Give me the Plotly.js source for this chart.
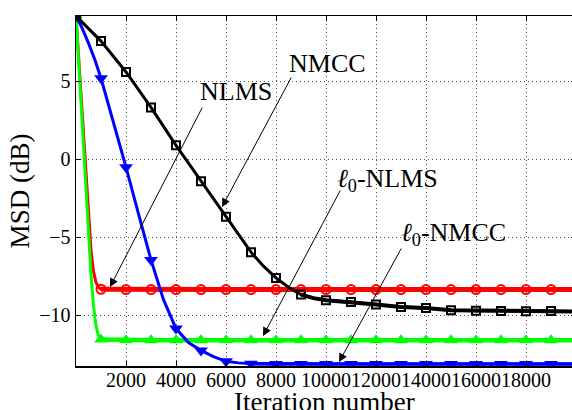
<!DOCTYPE html>
<html>
<head>
<meta charset="utf-8">
<script src="https://cdn.plot.ly/plotly-3.0.1.min.js"></script>
<style>
html,body{margin:0;padding:0;overflow:hidden;background:#fff;}
#chart{width:580px;height:420px;}
</style>
</head>
<body>
<div id="chart"></div>
<script>
// ---- data ----
var nlmsIter = [0,100,200,300,400,500,600,700,800,900,1000,2000,3000,4000,5000,6000,7000,8000,9000,10000,11000,12000,13000,14000,15000,16000,17000,18000,19000,20000];
var nlmsMsd  = [9.19,6.6,4.0,1.4,-1.2,-3.7,-5.8,-7.2,-7.9,-8.2,-8.33,-8.35,-8.35,-8.35,-8.35,-8.35,-8.35,-8.35,-8.35,-8.35,-8.35,-8.35,-8.35,-8.35,-8.35,-8.35,-8.35,-8.35,-8.35,-8.35];

var l0nlmsIter = [0,100,200,300,400,500,600,700,800,900,1000,2000,3000,4000,5000,6000,7000,8000,9000,10000,11000,12000,13000,14000,15000,16000,17000,18000,19000,20000];
var l0nlmsMsd  = [9.19,6.4,3.6,0.8,-2.0,-4.8,-7.4,-9.4,-10.7,-11.3,-11.55,-11.6,-11.6,-11.6,-11.6,-11.6,-11.6,-11.6,-11.6,-11.6,-11.6,-11.6,-11.6,-11.6,-11.6,-11.6,-11.6,-11.6,-11.6,-11.6];

var l0nmccIter = [0,250,500,750,1000,1250,1500,1750,2000,2500,3000,3500,4000,4500,5000,5500,6000,6500,7000,8000,9000,10000,11000,12000,13000,14000,15000,16000,17000,18000,19000,20000];
var l0nmccMsd  = [9.19,8.4,7.45,6.4,5.2,3.8,2.3,0.9,-0.5,-3.5,-6.45,-9.0,-10.85,-11.75,-12.25,-12.65,-12.95,-13.05,-13.1,-13.12,-13.12,-13.12,-13.12,-13.12,-13.12,-13.12,-13.12,-13.12,-13.12,-13.12,-13.12,-13.12];

var nmccIter = [0,1000,2000,3000,4000,5000,6000,7000,7500,8000,8500,9000,9500,10000,11000,12000,13000,14000,15000,16000,17000,18000,19000,20000];
var nmccMsd  = [9.19,7.58,5.6,3.33,0.9,-1.41,-3.68,-5.95,-6.85,-7.6,-8.2,-8.67,-8.9,-9.04,-9.15,-9.31,-9.47,-9.53,-9.68,-9.7,-9.72,-9.74,-9.73,-9.75];

var xTicks = [2000,4000,6000,8000,10000,12000,14000,16000,18000];
var yTicks = [-10,-5,0,5];
var markerStep = 1000;

// ---- helpers ----
function markersOf(xs, ys) {
  var mx = [], my = [];
  for (var i = 0; i < xs.length; i++) {
    if (xs[i] % markerStep === 0 && xs[i] < 20000) { mx.push(xs[i]); my.push(ys[i]); }
  }
  return {x: mx, y: my};
}
function tailOf(xs, ys, from) {
  var tx = [], ty = [];
  for (var i = 0; i < xs.length; i++) if (xs[i] >= from) { tx.push(xs[i]); ty.push(ys[i]); }
  return {x: tx, y: ty};
}
function series(xs, ys, color, w, tailFrom, tailW, sym, size, open) {
  var out = [];
  out.push({x: xs, y: ys, mode: 'lines', line: {color: color, width: w}, hoverinfo: 'skip'});
  var t = tailOf(xs, ys, tailFrom);
  out.push({x: t.x, y: t.y, mode: 'lines', line: {color: color, width: tailW}, hoverinfo: 'skip'});
  var m = markersOf(xs, ys);
  out.push({x: m.x, y: m.y, mode: 'markers',
    marker: {symbol: sym, size: size, color: color, line: {color: color, width: open ? 2 : 0}},
    hoverinfo: 'skip'});
  return out;
}

var traces = [].concat(
  series(nlmsIter, nlmsMsd, '#ff0000', 3, 1000, 5, 'circle-open', 9, true),
  series(l0nlmsIter, l0nlmsMsd, '#00ff00', 3, 1000, 4.5, 'triangle-up', 12, false),
  series(l0nmccIter, l0nmccMsd, '#0000ff', 3, 7000, 3.5, 'triangle-down', 12, false),
  series(nmccIter, nmccMsd, '#000000', 3, 9000, 4, 'square-open', 8, true)
);

var serif = 'Liberation Serif, Times New Roman, Times, serif';
function arrow(x, y, ax, ay) {
  return {x: x, y: y, xref: 'x', yref: 'y', ax: ax, ay: ay, text: '', showarrow: true,
    arrowhead: 2, arrowsize: 1.7, arrowwidth: 1, arrowcolor: '#000', standoff: 0};
}
function label(x, y, txt) {
  return {x: x, y: y, xref: 'x', yref: 'y', text: txt, showarrow: false,
    font: {family: serif, size: 26, color: '#000'}, xanchor: 'center', yanchor: 'middle'};
}

var layout = {
  width: 580, height: 420,
  margin: {l: 76, r: 4, t: 16, b: 54},
  paper_bgcolor: '#fff', plot_bgcolor: '#fff',
  showlegend: false,
  font: {family: serif, color: '#000'},
  xaxis: {
    range: [0, 20000], tickvals: xTicks, ticktext: xTicks.map(String), tickangle: 0,
    ticks: 'inside', ticklen: 5, tickwidth: 1, tickcolor: '#000', ticklabelstandoff: -5,
    showline: true, linecolor: '#000', linewidth: 1.5, mirror: 'ticks',
    showgrid: true, gridcolor: '#555', griddash: '1px,3px', gridwidth: 1, zeroline: false,
    tickfont: {family: serif, size: 20, color: '#000'}
  },
  yaxis: {
    range: [-13.25, 9.19], tickvals: yTicks,
    ticks: 'inside', ticklen: 5, tickwidth: 1, tickcolor: '#000',
    showline: true, linecolor: '#000', linewidth: 1.5, mirror: 'ticks',
    showgrid: true, gridcolor: '#555', griddash: '1px,3px', gridwidth: 1, zeroline: false,
    tickfont: {family: serif, size: 20, color: '#000'},
    title: {text: 'MSD (dB)', font: {family: serif, size: 27, color: '#000'}, standoff: 2}
  },
  annotations: [
    {xref: 'paper', yref: 'paper', x: 0.496, y: -0.102, xanchor: 'center', yanchor: 'middle',
     text: 'Iteration number', showarrow: false, font: {family: serif, size: 27, color: '#000'}},
    label(10040, 6.17, 'NMCC'),
    label(6400, 4.38, 'NLMS'),
    label(12460, -1.35, '<i>ℓ</i><sub>0</sub>-NLMS'),
    label(15080, -4.8, '<i>ℓ</i><sub>0</sub>-NMCC'),
    arrow(5840, -3.06, 70, -131),
    arrow(1360, -8.19, 93, -181),
    arrow(7480, -11.33, 78, -147),
    arrow(10520, -13.0, 63, -115)
  ]
};

Plotly.newPlot('chart', traces, layout, {displayModeBar: false, staticPlot: true});
</script>
</body>
</html>
